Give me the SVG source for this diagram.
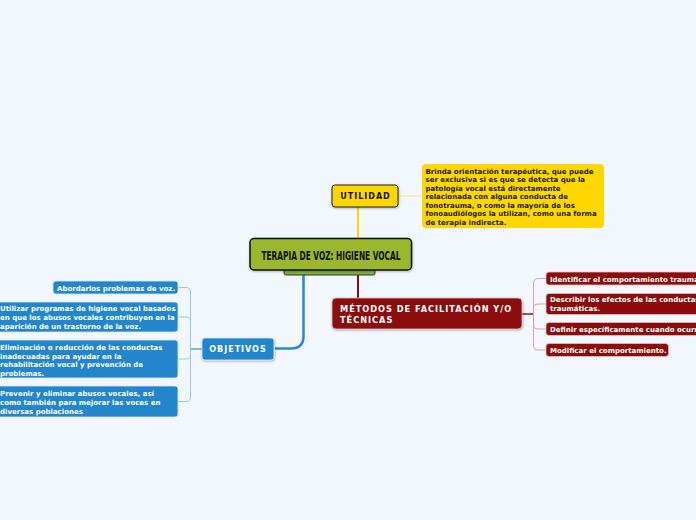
<svg xmlns="http://www.w3.org/2000/svg" width="696" height="520" viewBox="0 0 696 520">
<defs>
<filter id="sh" x="-10%" y="-20%" width="130%" height="160%">
<feDropShadow dx="0.5" dy="1" stdDeviation="0.8" flood-color="#000" flood-opacity="0.3"/>
</filter>
<style>
.t{font-family:"DejaVu Sans",Verdana,sans-serif;font-weight:bold;font-size:7px;}
.w{fill:#ffffff;}
.k{fill:#1a1a1a;}
.blue{fill:#2386cc;stroke:#d6e6f5;stroke-width:0.8;}
.red{fill:#8b0d0b;stroke:#e0c0c0;stroke-width:0.8;}
.h{font-family:"DejaVu Sans",Verdana,sans-serif;font-weight:bold;letter-spacing:1px;}
</style>
</defs>
<rect width="696" height="520" fill="#f2f6fd"/>

<g id="connectors" fill="none">
<path d="M358,207 V238" stroke="#ffd700" stroke-width="2"/>
<path d="M398,196 H422" stroke="#ffe270" stroke-width="1"/>
<path d="M358,270 V298" stroke="#8b0d0b" stroke-width="2"/>
<path d="M303.5,275 V336 Q303.5,348.5 291,348.5 H275" stroke="#2a88cf" stroke-width="2.5"/>
<path d="M190.5,349 H202" stroke="#5aa3dc" stroke-width="1.5"/>
<path d="M178,287.5 H186 Q190.5,287.5 190.5,292 V397 Q190.5,401.5 186,401.5 H178 M178,317 H186 Q190.5,317 190.5,321.5 M178,359 H186 Q190.5,359 190.5,354.5" stroke="#9cc5ea" stroke-width="1"/>
<path d="M522,314 H533.5" stroke="#8b1a1a" stroke-width="1.5"/>
<path d="M546,278.5 H538 Q533.5,278.5 533.5,283 V345.5 Q533.5,350 538,350 H546 M546,304 H538 Q533.5,304 533.5,308.5 M546,329 H538 Q533.5,329 533.5,324.5" stroke="#d9a3a3" stroke-width="1"/>
</g>

<g id="root">
<rect x="284" y="266" width="91" height="9" rx="2" fill="#7db63f" stroke="#333" stroke-width="1"/>
<rect x="250" y="238.5" width="161.5" height="31.5" rx="4" fill="#9ab72e" stroke="#111" stroke-width="1.5" filter="url(#sh)"/>
<text x="331" y="259.5" text-anchor="middle" font-family="'DejaVu Sans Condensed','DejaVu Sans',sans-serif" font-weight="bold" font-size="12" textLength="139" lengthAdjust="spacingAndGlyphs" fill="#111">TERAPIA DE VOZ: HIGIENE VOCAL</text>
</g>

<g id="utilidad">
<rect x="332" y="185" width="66" height="22" rx="3" fill="#ffd700" stroke="#222" stroke-width="1" filter="url(#sh)"/>
<text x="365.5" y="199" text-anchor="middle" class="h" font-size="8" fill="#111">UTILIDAD</text>
</g>

<g id="utilidad-texto">
<rect x="422" y="164" width="182" height="64" rx="4" fill="#ffd700"/>
<text class="t k">
<tspan x="425.5" y="173.5">Brinda orientación terapéutica, que puede</tspan>
<tspan x="425.5" y="182">ser exclusiva si es que se detecta que la</tspan>
<tspan x="425.5" y="190.5">patología vocal está directamente</tspan>
<tspan x="425.5" y="199">relacionada con alguna conducta de</tspan>
<tspan x="425.5" y="207.5">fonotrauma, o como la mayoría de los</tspan>
<tspan x="425.5" y="216">fonoaudiólogos la utilizan, como una forma</tspan>
<tspan x="425.5" y="224.5">de terapia indirecta.</tspan>
</text>
</g>

<g id="objetivos">
<rect x="202" y="338" width="72" height="22" rx="3" class="blue" filter="url(#sh)"/>
<text x="238" y="352" text-anchor="middle" class="h w" font-size="8">OBJETIVOS</text>
</g>

<g id="obj-1">
<rect x="53" y="281" width="125" height="13" rx="3" class="blue"/>
<text x="57" y="290.5" class="t w">Abordarlos problemas de voz.</text>
</g>
<g id="obj-2">
<rect x="-10" y="302" width="188" height="30" rx="3" class="blue"/>
<text class="t w"><tspan x="0" y="311">Utilizar programas de higiene vocal basados</tspan><tspan x="0" y="320">en que los abusos vocales contribuyen en la</tspan><tspan x="0" y="328.5">aparición de un trastorno de la voz.</tspan></text>
</g>
<g id="obj-3">
<rect x="-10" y="340" width="188" height="38" rx="3" class="blue"/>
<text class="t w"><tspan x="0" y="349.5">Eliminación o reducción de las conductas</tspan><tspan x="0" y="358.5">inadecuadas para ayudar en la</tspan><tspan x="0" y="367">rehabilitación vocal y prevención de</tspan><tspan x="0" y="375.5">problemas.</tspan></text>
</g>
<g id="obj-4">
<rect x="-10" y="386" width="188" height="31" rx="3" class="blue"/>
<text class="t w"><tspan x="0" y="396">Prevenir y eliminar abusos vocales, así</tspan><tspan x="0" y="405">como también para mejorar las voces en</tspan><tspan x="0" y="413.5">diversas poblaciones</tspan></text>
</g>

<g id="metodos">
<rect x="332" y="298" width="190" height="31" rx="4" class="red" filter="url(#sh)"/>
<text class="h w" font-size="8.2" letter-spacing="0.75"><tspan x="340" y="312">MÉTODOS DE FACILITACIÓN Y/O</tspan><tspan x="340" y="322.5">TÉCNICAS</tspan></text>
</g>

<g id="met-1">
<rect x="546" y="272" width="160" height="13" rx="3" class="red"/>
<text x="550" y="281.5" class="t w">Identificar el comportamiento traumático.</text>
</g>
<g id="met-2">
<rect x="546" y="293.5" width="160" height="21" rx="3" class="red"/>
<text class="t w"><tspan x="550" y="301.8">Describir los efectos de las conductas</tspan><tspan x="550" y="310.8">traumáticas.</tspan></text>
</g>
<g id="met-3">
<rect x="546" y="322.5" width="160" height="13" rx="3" class="red"/>
<text x="550" y="332" class="t w">Definir específicamente cuando ocurre.</text>
</g>
<g id="met-4">
<rect x="546" y="343.5" width="122.5" height="13" rx="3" class="red"/>
<text x="550" y="353" class="t w">Modificar el comportamiento.</text>
</g>
</svg>
